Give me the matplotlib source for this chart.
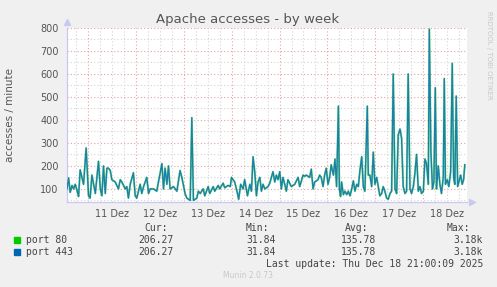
import matplotlib
matplotlib.use("Agg")
import matplotlib.pyplot as plt

# hours since 10 Dez 00:00 (accesses / minute)
hours = [
    13.4, 14.2, 15.0, 15.9, 16.7, 17.5, 18.4, 19.2, 20.0, 21.7, 23.0, 24.2, 25.0, 25.9,
    27.6, 29.2, 30.1, 30.9, 31.7, 32.6, 33.4, 34.2, 35.1, 35.9, 37.6, 39.2, 40.1, 40.9,
    42.6, 43.4, 44.2, 45.1, 46.7, 47.6, 48.4, 50.1, 50.9, 51.8, 53.4, 54.3, 55.1, 56.8,
    58.4, 61.0, 61.8, 62.6, 63.5, 64.3, 65.1, 66.8, 68.5, 70.1, 71.0, 72.6, 73.5, 75.2,
    76.0, 76.8, 78.5, 79.3, 80.2, 81.7, 82.5, 84.2, 85.0, 86.7, 87.5, 89.2, 90.0, 91.7,
    92.5, 94.2, 95.3, 95.9, 97.5, 98.9, 99.5, 100.5, 101.7, 102.5, 103.9, 105.1, 105.9,
    106.7, 107.6, 108.4, 109.2, 110.1, 110.9, 111.7, 112.6, 114.2, 115.1, 116.7, 117.6,
    118.4, 119.2, 120.1, 120.9, 121.7, 122.6, 123.4, 124.2, 125.9, 127.6, 129.3, 130.1,
    131.8, 132.6, 133.4, 135.1, 135.9, 136.8, 137.6, 139.3, 140.1, 140.9, 141.8, 142.6,
    143.4, 144.3, 145.1, 145.9, 147.0, 147.8, 148.6, 149.5, 150.0, 150.6, 151.1, 152.0,
    152.8, 153.7, 154.5, 155.3, 156.2, 157.0, 157.8, 158.7, 159.5, 160.3, 161.2, 162.0,
    162.8, 164.0, 164.5, 165.3, 166.2, 167.0, 167.8, 168.7, 169.5, 170.3, 171.2, 172.0,
    172.8, 173.7, 174.5, 175.4, 176.2, 177.0, 177.9, 178.7, 179.5, 180.4, 181.2, 182.0,
    182.9, 183.7, 184.5, 185.4, 186.2, 187.1, 187.9, 188.7, 189.6, 190.4, 191.2, 192.1,
    192.9, 193.7, 194.6, 195.1, 195.9, 196.7, 197.4, 198.1, 198.7, 199.6, 200.4, 201.2,
    202.1, 202.6, 203.2, 204.1, 204.9, 205.8, 206.6, 207.3, 207.9, 208.6, 209.3, 209.9,
    210.8, 211.6, 212.3, 212.9,
]
port80 = [
    100, 148, 85, 115, 100, 120, 95, 67, 183, 120, 278, 70, 60, 160,
    80, 220, 100, 70, 200, 80, 190, 190, 180, 140, 130, 100, 140, 130,
    100, 110, 60, 120, 170, 70, 60, 120, 80, 110, 150, 80, 100, 100,
    90, 210, 100, 190, 120, 200, 100, 110, 90, 180, 150, 80, 60, 50,
    410, 50, 60, 90, 80, 100, 70, 110, 80, 110, 90, 115, 100, 125,
    105, 115, 110, 150, 130, 80, 55, 120, 100, 140, 70, 120, 90,
    240, 170, 70, 130, 150, 90, 120, 100, 110, 125, 175, 130,
    160, 140, 175, 100, 150, 120, 90, 140, 110, 120, 150, 110,
    160, 155, 160, 150, 186, 100, 130, 140, 160, 150, 110, 160,
    190, 120, 150, 205, 160, 230, 110, 460, 100, 67, 130, 75,
    90, 75, 90, 70, 100, 135, 90, 120, 110, 180, 240, 110,
    90, 460, 160, 160, 110, 260, 120, 150, 110, 70, 80, 110,
    90, 60, 55, 80, 90, 600, 100, 80, 335, 360, 320, 110,
    80, 90, 600, 100, 80, 110, 170, 250, 90, 110, 80, 90,
    230, 210, 120, 795, 260, 100, 130, 540, 100, 200, 120, 80,
    150, 580, 120, 140, 110, 175, 646, 150, 120, 504, 110, 130,
    160, 120, 140, 205,
]
port443 = list(port80)

day_labels = ["11 Dez", "12 Dez", "13 Dez", "14 Dez", "15 Dez", "16 Dez", "17 Dez", "18 Dez"]
y_ticks = [100, 200, 300, 400, 500, 600, 700, 800]

legend_names = ["port 80", "port 443"]
legend_colors = ["#00CC00", "#0066B3"]
cur_vals = ["206.27", "206.27"]
min_vals = ["31.84", "31.84"]
avg_vals = ["135.78", "135.78"]
max_vals = ["3.18k", "3.18k"]

W, H = 497, 287
fig = plt.figure(figsize=(W / 100, H / 100), dpi=100, facecolor="#F0F0F0")
ax = fig.add_axes([67 / W, 1 - 202 / H, 400 / W, 174 / H])
ax.set_facecolor("white")

x0, x1 = 13.4, 214.0
y0, y1 = 43, 800
ax.set_xlim(x0, x1)
ax.set_ylim(y0, y1)

# grid: gray dotted minor, red dotted major
for h in range(18, 215, 6):
    if h % 24:
        ax.axvline(h, color="#d4d4d4", lw=0.8, ls=(0, (1, 2)), zorder=0)
for h in range(24, 215, 24):
    ax.axvline(h, color="#e3a3a3", lw=0.8, ls=(0, (1, 2)), zorder=0)
for v in range(50, 801, 50):
    if v % 100:
        ax.axhline(v, color="#d4d4d4", lw=0.8, ls=(0, (1, 2)), zorder=0)
    else:
        ax.axhline(v, color="#e3a3a3", lw=0.8, ls=(0, (1, 2)), zorder=0)

# both lines overlap exactly, the mix shows as teal
ax.plot(hours, port80, color=legend_colors[0], lw=1.5, alpha=0.45, zorder=2)
ax.plot(hours, port443, color=legend_colors[1], lw=1.0, alpha=0.8, zorder=3)

for s in ["top", "right"]:
    ax.spines[s].set_visible(False)
for s in ["left", "bottom"]:
    ax.spines[s].set_color("#c8c8f0")
    ax.spines[s].set_linewidth(0.9)
ax.plot([0], [1.035], marker="^", color="#c8c8f0", ms=4, transform=ax.transAxes, clip_on=False)
ax.plot([1.012], [0], marker=">", color="#c8c8f0", ms=4, transform=ax.transAxes, clip_on=False)

ax.set_xticks([24 * (i + 1) + 12 for i in range(len(day_labels))])
ax.set_xticklabels(day_labels)
ax.set_yticks(y_ticks)
ax.tick_params(axis="both", length=0, labelsize=7, labelcolor="#555555")
ax.tick_params(axis="x", pad=5)
ax.tick_params(axis="y", pad=6)

fig.text(248 / W, 1 - 20 / H, "Apache accesses - by week", ha="center", va="center",
         fontsize=9.5, color="#555555")
fig.text(10 / W, 1 - 115 / H, "accesses / minute", rotation=90, ha="center", va="center",
         fontsize=7.5, color="#555555")
fig.text(489 / W, 1 - 55 / H, "RRDTOOL / TOBI OETIKER", rotation=270, ha="center", va="center",
         fontsize=5, color="#c8c8c8")

mono = "DejaVu Sans Mono"
tc = "#444444"
for txt, xr in zip(["Cur:", "Min:", "Avg:", "Max:"], [168, 269, 368, 470]):
    fig.text(xr / W, 1 - 228 / H, txt, ha="right", va="center", fontsize=7, family=mono, color=tc)

rows_y = [240, 252]
for i, name in enumerate(legend_names):
    yy = 1 - rows_y[i] / H
    fig.patches.append(plt.Rectangle((14 / W, yy - 3 / H), 6 / W, 6 / H, color=legend_colors[i],
                                     transform=fig.transFigure, figure=fig))
    fig.text(26 / W, yy, name, ha="left", va="center", fontsize=7, family=mono, color=tc)
    for val, xr in zip([cur_vals[i], min_vals[i], avg_vals[i], max_vals[i]], [174, 276, 376, 483]):
        fig.text(xr / W, yy, val, ha="right", va="center", fontsize=7, family=mono, color=tc)

fig.text(483 / W, 1 - 264 / H, "Last update: Thu Dec 18 21:00:09 2025", ha="right", va="center",
         fontsize=7, family=mono, color=tc)
fig.text(248 / W, 1 - 276 / H, "Munin 2.0.73", ha="center", va="center", fontsize=5.5,
         color="#c8c8c8")

fig.savefig("out.png", dpi=100, facecolor=fig.get_facecolor())
